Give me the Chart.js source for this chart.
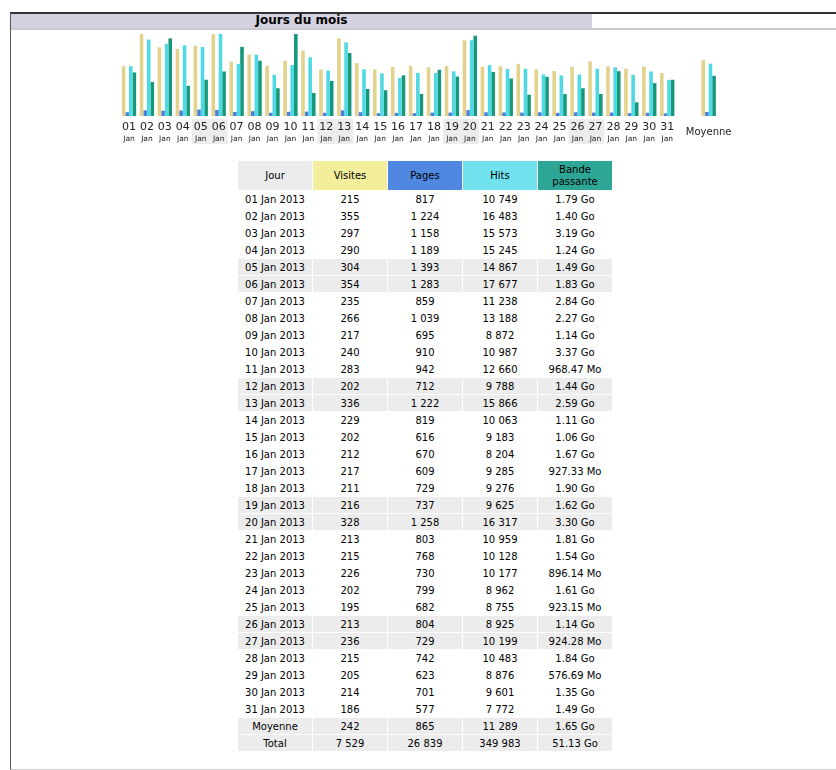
<!DOCTYPE html>
<html>
<head>
<meta charset="utf-8">
<script src="https://cdn.jsdelivr.net/npm/chart.js@4.4.1/dist/chart.umd.min.js"></script>
<style>
body{margin:0;background:#fff;font-family:"DejaVu Sans",Verdana,sans-serif;}
#box{position:absolute;left:10px;top:12px;width:830px;height:755px;border-left:1px solid #555;border-top:2px solid #333;border-bottom:1px solid #ccc;}
#band{position:absolute;left:11px;top:14px;width:581px;height:14px;background:#d4d2e1;font-weight:bold;font-size:12px;text-align:center;line-height:13px;color:#000;}
#bandline{position:absolute;left:11px;top:28px;width:825px;height:2px;background:#c8c7d2;}
#chartwrap{position:absolute;left:0;top:30px;width:836px;height:120px;}
#tbl{position:absolute;left:237px;top:160px;border-collapse:separate;border-spacing:1px 1px;font-size:10px;color:#000;table-layout:fixed;}
#tbl td,#tbl th{width:74px;padding:0;text-align:center;height:16px;font-weight:normal;}
#tbl th{height:29px;line-height:12px;}
#tbl tr.we td,#tbl tr.sum td{background:#ececec;}
</style>
</head>
<body>
<div id="box"></div>
<div id="band">Jours du mois</div>
<div id="bandline"></div>
<div id="chartwrap"><canvas id="chart" width="836" height="120"></canvas></div>
<table id="tbl"><thead><tr>
<th style="background:#ececec">Jour</th>
<th style="background:#f3ee9c">Visites</th>
<th style="background:#4f87e1">Pages</th>
<th style="background:#70e2ee">Hits</th>
<th style="background:#2ea695">Bande<br>passante</th>
</tr></thead><tbody id="rows"></tbody></table>
<script>
const days = ["01","02","03","04","05","06","07","08","09","10","11","12","13","14","15","16","17","18","19","20","21","22","23","24","25","26","27","28","29","30","31"];
const weekend = ["05","06","12","13","19","20","26","27"];
const visits = [215,355,297,290,304,354,235,266,217,240,283,202,336,229,202,212,217,211,216,328,213,215,226,202,195,213,236,215,205,214,186];
const pages = [817,1224,1158,1189,1393,1283,859,1039,695,910,942,712,1222,819,616,670,609,729,737,1258,803,768,730,799,682,804,729,742,623,701,577];
const hits = [10749,16483,15573,15245,14867,17677,11238,13188,8872,10987,12660,9788,15866,10063,9183,8204,9285,9276,9625,16317,10959,10128,10177,8962,8755,8925,10199,10483,8876,9601,7772];
const bandwidth = ["1.79 Go","1.40 Go","3.19 Go","1.24 Go","1.49 Go","1.83 Go","2.84 Go","2.27 Go","1.14 Go","3.37 Go","968.47 Mo","1.44 Go","2.59 Go","1.11 Go","1.06 Go","1.67 Go","927.33 Mo","1.90 Go","1.62 Go","3.30 Go","1.81 Go","1.54 Go","896.14 Mo","1.61 Go","923.15 Mo","1.14 Go","924.28 Mo","1.84 Go","576.69 Mo","1.35 Go","1.49 Go"];
const average = [242,865,11289,"1.65 Go"];
const total = [7529,26839,349983,"51.13 Go"];

const MOY_X = 33.31; // position of the Moyenne group on the x scale

function toGo(s){ //"968.47 Mo" -> Go
  const n = parseFloat(s);
  return s.indexOf("Mo")>0 ? n/1024 : n;
}
function fmt(n){
  return String(n).replace(/\B(?=(\d{3})+(?!\d))/g," ");
}

//table
const tbody = document.getElementById("rows");
days.forEach((d,i)=>{
  const tr = document.createElement("tr");
  if(weekend.includes(d)) tr.className="we";
  [d+" Jan 2013",fmt(visits[i]),fmt(pages[i]),fmt(hits[i]),bandwidth[i]].forEach(t=>{
    const td=document.createElement("td");
    td.textContent=t;
    tr.appendChild(td);
  });
  tbody.appendChild(tr);
});
[["Moyenne",average],["Total",total]].forEach(r=>{
  const tr=document.createElement("tr");
  tr.className="sum";
  [r[0]].concat(r[1].map(v=>typeof v==="number"?fmt(v):v)).forEach(t=>{
    const td=document.createElement("td");
    td.textContent=t;
    tr.appendChild(td);
  });
  tbody.appendChild(tr);
});

//chart data: days then the average group
function pts(arr,avg){
  const out = arr.map((v,i)=>({x:i+1,y:v}));
  out.push({x:MOY_X,y:avg});
  return out;
}
const bwGo = bandwidth.map(toGo);
const maxVisits = Math.max(...visits);
const maxHits = Math.max(...hits);
const maxBw = Math.max(...bwGo);

const labelsPlugin = {
  id:"dayLabels",
  afterDraw(chart){
    const c = chart.ctx;
    const xs = chart.scales.x;
    const base = chart.chartArea.bottom;
    c.save();
    c.textAlign="center";
    c.textBaseline="middle";
    days.forEach((d,i)=>{
      const px = xs.getPixelForValue(i+1);
      if(weekend.includes(d)){
        c.fillStyle="#ececec";
        c.fillRect(px-9,base+3,18,25);
      }
      c.fillStyle="#222";
      c.font="11px 'DejaVu Sans'";
      c.fillText(d,px,base+11);
      c.font="7.5px 'DejaVu Sans'";
      c.fillText("Jan",px,base+23);
    });
    c.fillStyle="#222";
    c.font="10px 'DejaVu Sans'";
    c.fillText("Moyenne",xs.getPixelForValue(MOY_X),base+16);
    c.restore();
  }
};

new Chart(document.getElementById("chart"),{
  type:"bar",
  data:{
    datasets:[
      {label:"Visites",data:pts(visits,average[0]),backgroundColor:"#e3d28c",yAxisID:"yv"},
      {label:"Pages",data:pts(pages,average[1]),backgroundColor:"#4a7fdc",yAxisID:"yh"},
      {label:"Hits",data:pts(hits,average[2]),backgroundColor:"#4fd9e5",yAxisID:"yh"},
      {label:"Bande passante",data:pts(bwGo,toGo(average[3])),backgroundColor:"#15977a",yAxisID:"yb"}
    ]
  },
  options:{
    responsive:false,
    animation:false,
    layout:{padding:{left:120,right:106,top:4,bottom:34}},
    plugins:{legend:{display:false},tooltip:{enabled:false}},
    datasets:{bar:{categoryPercentage:0.8,barPercentage:1}},
    scales:{
      x:{type:"linear",min:0.5,max:34.5,offset:false,display:false},
      yv:{min:0,max:maxVisits,display:false},
      yh:{min:0,max:maxHits,display:false},
      yb:{min:0,max:maxBw,display:false}
    }
  },
  plugins:[labelsPlugin]
});
</script>
</body>
</html>
